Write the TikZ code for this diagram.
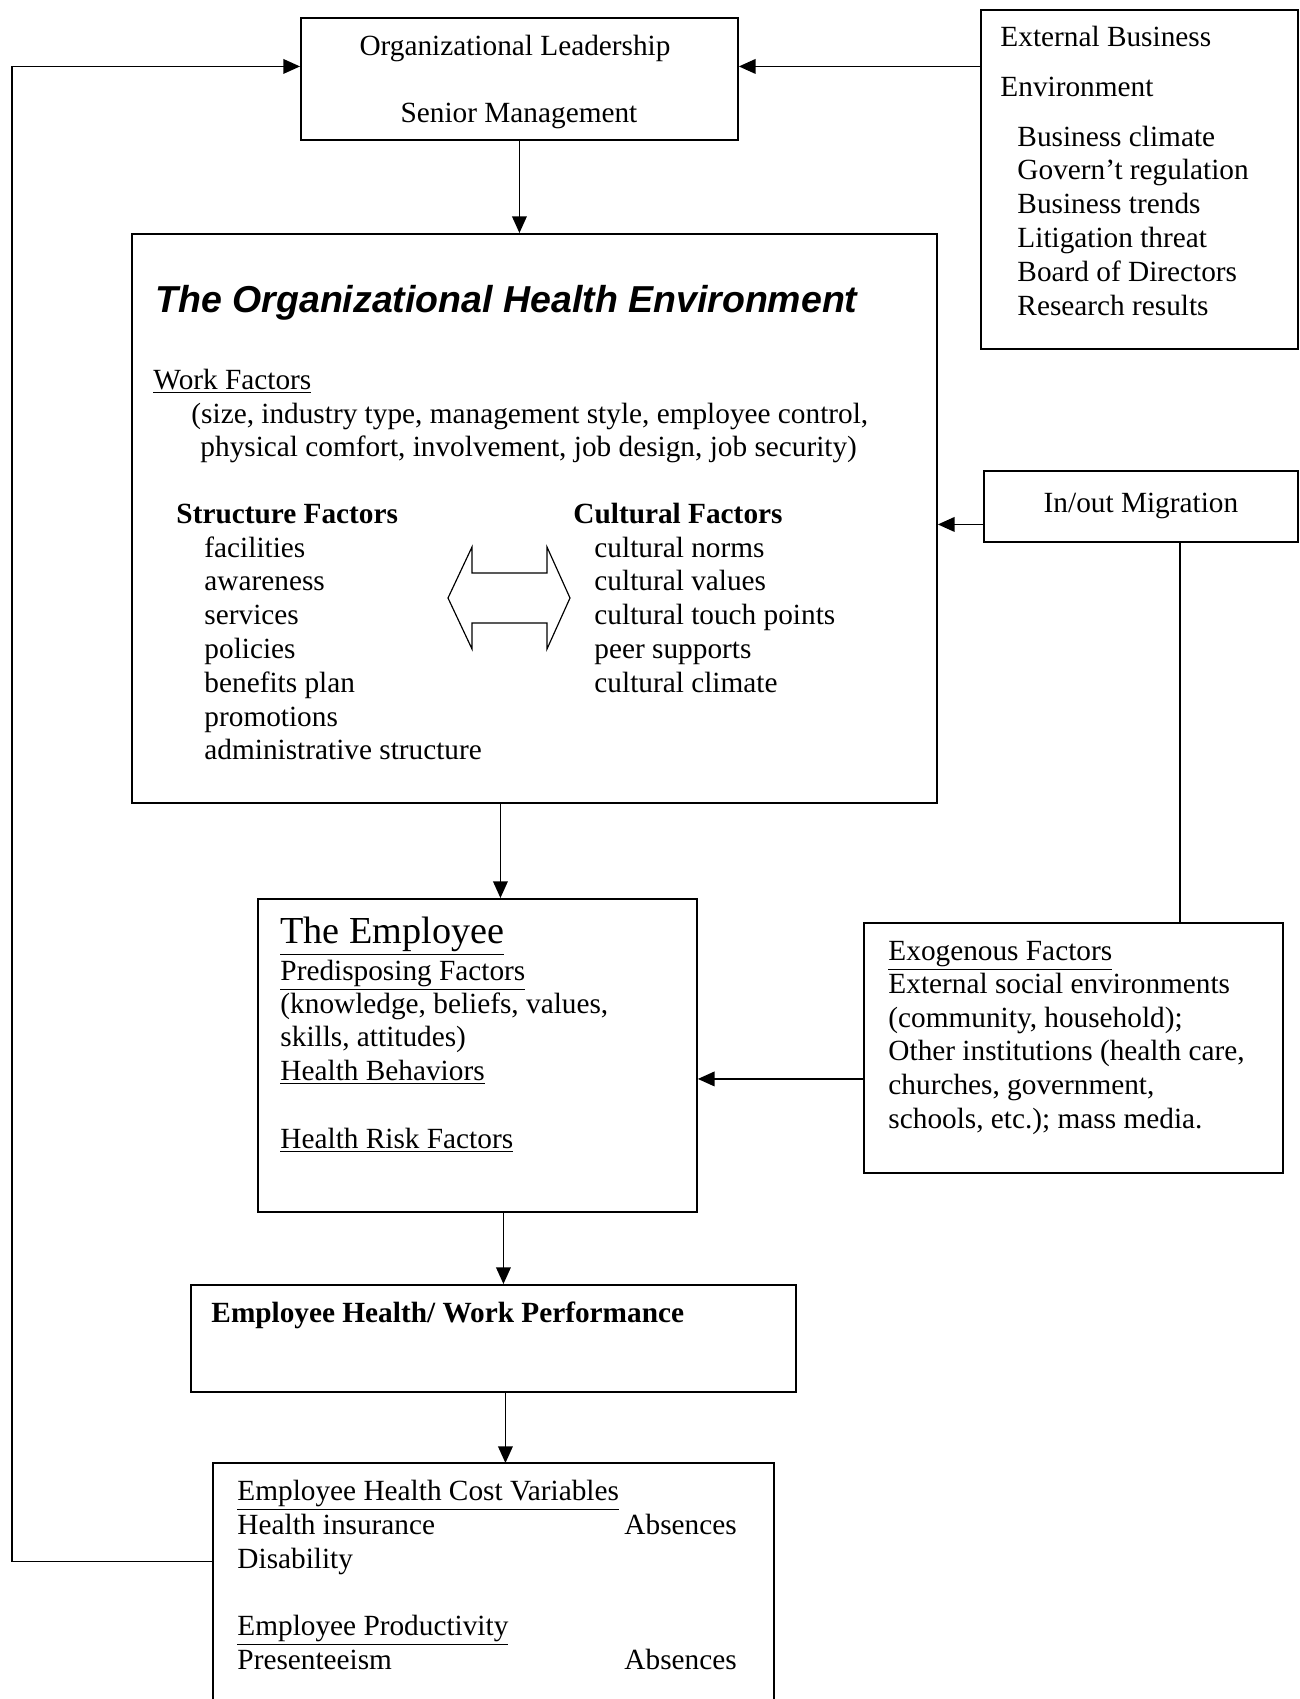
\documentclass[tikz,border=0pt]{standalone}
\usepackage{fontspec}
\setmainfont{Liberation Serif}
\newfontfamily\headsans{Liberation Sans}
\usetikzlibrary{arrows.meta}
\newcommand{\px}{0.015cm}
\tikzset{
  box/.style={draw, line width=0.8pt, anchor=north west, inner sep=0pt},
  boxwh/.style 2 args={minimum width=#1*\px, minimum height=#2*\px},
  txt/.style={anchor=base west, inner sep=0pt, font=\fontsize{12.5}{15}\selectfont},
  ctxt/.style={txt, anchor=base},
  link/.style={line width=0.6pt},
  arr/.style={link, -{Triangle[length=0.25cm,width=0.22cm]}},
}
\begin{document}
\begin{tikzpicture}[x=\px,y=-\px]
  \useasboundingbox (0,0) rectangle (1300,1699);
  % Boxes
  \node[box, boxwh={437}{122}] (lead) at (300,17) {};
  \node[box, boxwh={317}{339}] (ext) at (980,9) {};
  \node[box, boxwh={805}{569}] (ohe) at (131,233) {};
  \node[box, boxwh={314}{71}, font=\fontsize{12.5}{15}\selectfont] (mig) at (983,470) {In/out Migration};
  \node[box, boxwh={419}{250}] (exo) at (863,922) {};
  \node[box, boxwh={439}{313}] (emp) at (257,898) {};
  \node[box, boxwh={605}{107}] (ehwp) at (190,1284) {};
  \node[box, draw=none, boxwh={559}{237}] (cost) at (213,1463) {};
  \draw[line width=0.8pt] (cost.south west) |- (cost.north east) -- (cost.south east);

  % Leadership
  \node[ctxt] (leadtop) at (515,55) {Organizational Leadership};
  \node[ctxt] (leadbot) at (519,122) {Senior Management};

  % External business environment
  \node[txt] (exthead) at (1000,46) {External Business};
  \node[txt] (exthead2) at (1000,96) {Environment};
  \foreach \t [count=\k from 0] in {Business climate, Govern’t regulation,
      Business trends, Litigation threat, Board of Directors, Research results}
    \node[txt] (ext\k) at (1017,{146+33.8*\k}) {\t};

  % Organizational health environment
  \node[txt, font=\headsans\bfseries\itshape\fontsize{16}{19}\selectfont] (ohetitle)
    at (155,312) {The Organizational Health Environment};
  \node[txt] (work) at (153,389) {\underline{Work Factors}};
  \node[txt] (work1) at (191,423) {(size, industry type, management style, employee control,};
  \node[txt] (work2) at (200,456) {physical comfort, involvement, job design, job security)};
  \node[txt, font=\bfseries\fontsize{12.5}{15}\selectfont] (strhead) at (176,523) {Structure Factors};
  \node[txt, font=\bfseries\fontsize{12.5}{15}\selectfont] (culhead) at (573,523) {Cultural Factors};
  \foreach \t [count=\k from 0] in {facilities, awareness, services, policies,
      benefits plan, promotions, administrative structure}
    \node[txt] (str\k) at (204,{557+33.8*\k}) {\t};
  \foreach \t [count=\k from 0] in {cultural norms, cultural values,
      cultural touch points, peer supports, cultural climate}
    \node[txt] (cul\k) at (594,{557+33.8*\k}) {\t};
  % two-way arrow between the factor lists
  \draw[line width=0.5pt] (448,598) -- (472,547) -- (472,573) -- (547,573) -- (547,547)
    -- (570,598) -- (547,649) -- (547,623) -- (472,623) -- (472,649) -- cycle;

  % The employee
  \node[txt, font=\fontsize{16.3}{19}\selectfont] (emptitle) at (280,943) {\underline{The Employee}};
  \node[txt] (emp1) at (280,980) {\underline{Predisposing Factors}};
  \node[txt] (emp2) at (280,1013) {(knowledge, beliefs, values,};
  \node[txt] (emp3) at (280,1046) {skills, attitudes)};
  \node[txt] (emp4) at (280,1080) {\underline{Health Behaviors}};
  \node[txt] (emp5) at (280,1148) {\underline{Health Risk Factors}};

  % Exogenous factors
  \node[txt] (exohead) at (888,960) {\underline{Exogenous Factors}};
  \foreach \t [count=\k from 1] in {{External social environments},
      {(community, household);}, {Other institutions (health care,},
      {churches, government,}, {schools, etc.); mass media.}}
    \node[txt] (exo\k) at (888,{960+33.6*\k}) {\t};

  % Health / performance
  \node[txt, font=\bfseries\fontsize{12.5}{15}\selectfont] (ehwphead) at (211,1322)
    {Employee Health/ Work Performance};

  % Cost variables
  \node[txt] (cost1) at (237,1500) {\underline{Employee Health Cost Variables}};
  \node[txt] (cost2) at (237,1534) {Health insurance};
  \node[txt] (cost3) at (624,1534) {Absences};
  \node[txt] (cost4) at (237,1568) {Disability};
  \node[txt] (cost5) at (237,1635) {\underline{Employee Productivity}};
  \node[txt] (cost6) at (237,1669) {Presenteeism};
  \node[txt] (cost7) at (624,1669) {Absences};

  % Connectors
  \coordinate (extout) at ([yshift=113*\px]ext.west);
  \coordinate (migout) at ([yshift=-18*\px]mig.west);
  \coordinate (migdown) at ([xshift=39*\px]mig.south);
  \coordinate (oheout) at ([xshift=-34*\px]ohe.south);
  \coordinate (exoout) at ([yshift=-31*\px]exo.west);
  \coordinate (empout) at ([xshift=26*\px]emp.south);
  \coordinate (ehwpout) at ([xshift=12*\px]ehwp.south);
  \coordinate (fbstart) at ([yshift=21*\px]cost.west);
  \coordinate (fbleft) at (12,0);
  \draw[arr] (extout) -- (extout -| lead.east);
  \draw[arr] (lead.south) -- (lead.south |- ohe.north);
  \draw[arr] (migout) -- (migout -| ohe.east);
  \draw[link] (migdown) -- (migdown |- exo.north);
  \draw[arr] (oheout) -- (oheout |- emp.north);
  \draw[arr] (exoout) -- (exoout -| emp.east);
  \draw[arr] (empout) -- (empout |- ehwp.north);
  \draw[arr] (ehwpout) -- (ehwpout |- cost.north);
  \draw[arr] (fbstart) -- (fbstart -| fbleft) -- (fbleft |- extout) -- (extout -| lead.west);
\end{tikzpicture}
\end{document}
